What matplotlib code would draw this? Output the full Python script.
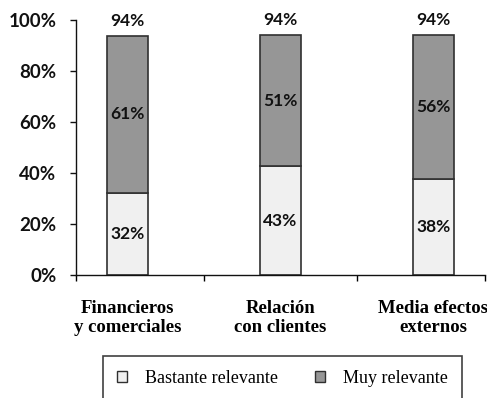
import numpy as np
from matplotlib import pyplot as plt
from matplotlib.ticker import FixedLocator, PercentFormatter

categorias = ['Financieros\ny comerciales', 'Relación\ncon clientes', 'Media efectos\nexternos']
bastante = [32.2, 42.6, 37.8]
muy = [61.4, 51.4, 56.0]
series = ['Bastante relevante', 'Muy relevante']

color_claro = '#F0F0F0'
color_oscuro = '#969696'
borde = '#303030'

fig = plt.figure(figsize=(4.87, 3.98), dpi=100)
ax = fig.add_axes([0.156, 0.3078, 0.84, 0.6432])

x = np.arange(len(categorias))
ancho = 0.268
b1 = ax.bar(x, bastante, ancho, color=color_claro, edgecolor=borde, linewidth=1.2, label=series[0])
b2 = ax.bar(x, muy, ancho, bottom=bastante, color=color_oscuro, edgecolor=borde, linewidth=1.2, label=series[1])

fuente_num = dict(family='Lato', weight='bold', size=12.5, color='#111111')
for i in range(len(x)):
    ax.text(x[i], bastante[i] / 2, f'{bastante[i]:.0f}%', ha='center', va='center', **fuente_num)
    ax.text(x[i], bastante[i] + muy[i] / 2, f'{muy[i]:.0f}%', ha='center', va='center', **fuente_num)
    total = bastante[i] + muy[i]
    ax.annotate(f'{total:.0f}%', (x[i], total), xytext=(0, 11), textcoords='offset points',
                ha='center', va='center', **fuente_num)

ax.set_ylim(0, 100)
ax.set_xlim(-0.337, 2.337)
ax.yaxis.set_major_locator(FixedLocator([0, 20, 40, 60, 80, 100]))
ax.yaxis.set_major_formatter(PercentFormatter(decimals=0))
ax.tick_params(axis='y', direction='out', length=4, width=1, pad=10, colors='#111111')
for lab in ax.get_yticklabels():
    lab.set_fontfamily('Lato')
    lab.set_fontweight('bold')
    lab.set_fontsize(13.5)

# marcas entre categorias, etiquetas centradas en cada barra
ax.set_xticks([-0.337, 0.5, 1.5, 2.337])
ax.set_xticklabels([])
ax.tick_params(axis='x', which='major', direction='out', length=4.5, width=1)
ax.set_xticks(x, minor=True)
ax.set_xticklabels(categorias, minor=True, family='Liberation Serif', weight='bold',
                   fontsize=13.5, linespacing=1.2)
ax.tick_params(axis='x', which='minor', length=0, pad=17.5)

for s in ['top', 'right']:
    ax.spines[s].set_visible(False)
for s in ['left', 'bottom']:
    ax.spines[s].set_linewidth(1)
    ax.spines[s].set_color('#111111')

leg = fig.legend(handles=[b1, b2], labels=series, loc='upper center', bbox_to_anchor=(0.58, 0.106),
                 ncol=2, frameon=True, fancybox=False, edgecolor='#111111',
                 prop=dict(family='Liberation Serif', size=13),
                 handlelength=0.55, handleheight=0.55, handletextpad=1.0, columnspacing=2.0,
                 borderpad=0.8, borderaxespad=0)
leg.get_frame().set_linewidth(1.2)
for h in leg.legend_handles:
    h.set_linewidth(1)

fig.savefig('out.png', dpi=100)
